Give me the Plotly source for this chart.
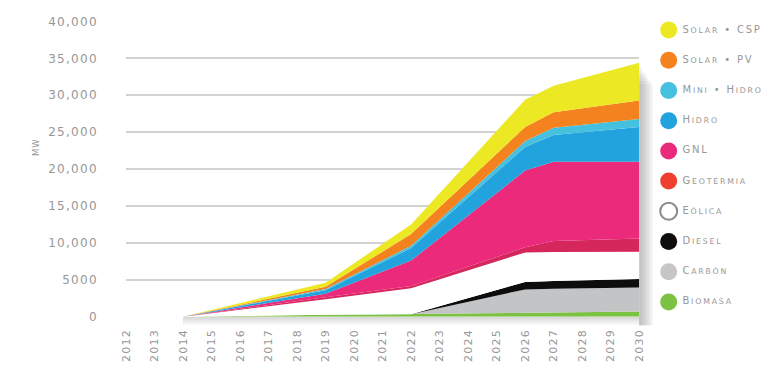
import plotly.graph_objects as go

# ---- data (MW installed, stacked bottom to top) ----
years = [2012, 2013, 2014, 2019, 2022, 2026, 2027, 2030]
year_ticks = list(range(2012, 2031))

biomasa   = [0, 0, 0, 250, 350, 500, 550, 700]
carbon    = [0, 0, 0, 0, 0, 3200, 3250, 3250]
diesel    = [0, 0, 0, 0, 0, 1000, 1050, 1150]
eolica    = [0, 0, 0, 2100, 3500, 4000, 3900, 3700]
geotermia = [0, 0, 0, 300, 300, 700, 1500, 1800]
gnl       = [0, 0, 0, 450, 3450, 10400, 10750, 10400]
hidro     = [0, 0, 0, 500, 1700, 3200, 3600, 4700]
mini      = [0, 0, 0, 150, 300, 800, 1000, 1100]
solar_pv  = [0, 0, 0, 300, 1600, 1900, 2100, 2500]
solar_csp = [0, 0, 0, 550, 1300, 3700, 3600, 5100]

names = ["Biomasa", "Carbón", "Diesel", "Eólica", "Geotermia",
         "GNL", "Hidro", "Mini • Hidro", "Solar • PV", "Solar • CSP"]
series = [biomasa, carbon, diesel, eolica, geotermia,
          gnl, hidro, mini, solar_pv, solar_csp]
fill_colors = ["#7cc242", "#c3c4c6", "#0d0d0d", "#ffffff", "#d6275d",
               "#eb2a7b", "#22a3dd", "#45c0df", "#f4831f", "#ece824"]
key_colors = ["#7cc242", "#c6c6c6", "#0d0d0d", "#ffffff", "#ee3f2f",
              "#e92b7c", "#22a3dd", "#45c0df", "#f4831f", "#ece824"]

y_ticks = [0, 5000, 10000, 15000, 20000, 25000, 30000, 35000, 40000]
y_tick_text = ["0", "5000", "10,000", "15,000", "20,000",
               "25,000", "30,000", "35,000", "40,000"]

# ---- geometry (pixels) ----
W, H = 774, 367
L, R, T, B = 122, 644, 15, 322
GREY = "#979797"
FONT = "DejaVu Sans"
X0, X1 = year_ticks[0], year_ticks[-1]
Y0, Y1 = y_ticks[0], y_ticks[-1]


def fx(px):
    return px / W


def fy(py):
    return 1 - py / H


def px_x(v):
    return L + (v - X0) / (X1 - X0) * (R - L)


def px_y(v):
    return B - (v - Y0) / (Y1 - Y0) * (B - T)


def tracked(s, spacing=1.3):
    return f"<span style='letter-spacing:{spacing}px'>{s}</span>"


fig = go.Figure()

for name, vals, col in zip(names, series, fill_colors):
    fig.add_trace(go.Scatter(
        x=years, y=vals, name=name, stackgroup="mix", mode="lines",
        line=dict(width=0, color=col), fillcolor=col,
        hoverinfo="x+y+name", showlegend=False,
    ))

# soft drop shadow to the right of and below the stack
total_end = sum(s[-1] for s in series)
shapes = []
for k in range(7):
    shapes.append(dict(type="rect", xref="paper", yref="paper",
                       x0=fx(R), x1=fx(R + 2.0 * (k + 1)),
                       y0=fy(B + 9), y1=fy(px_y(total_end) + 4 + 3 * k),
                       fillcolor="rgba(110,110,110,0.065)", line_width=0, layer="below"))
for k in range(4):
    shapes.append(dict(type="rect", xref="paper", yref="paper",
                       x0=fx(px_x(years[2])), x1=fx(R),
                       y0=fy(B + 2 * (k + 1)), y1=fy(B),
                       fillcolor="rgba(110,110,110,0.07)", line_width=0, layer="below"))


def small_caps(label, small=7.8, spacing=1.8):
    words = []
    for w in label.split(" "):
        if w == "•" or w.isupper():
            words.append(w)
        else:
            words.append(w[0].upper() +
                         f"<span style='font-size:{small}px'>{w[1:].upper()}</span>")
    return f"<span style='letter-spacing:{spacing}px'>" + " ".join(words) + "</span>"


# key drawn on its own pixel-scaled axis, top entry first
order = list(range(len(names)))[::-1]
key_y = [24 + 31.4 * i for i in range(len(order))]
fig.add_trace(go.Scatter(
    x=[674] * len(order), y=key_y, mode="markers", xaxis="x2", yaxis="y2",
    marker=dict(size=17, color=[key_colors[i] for i in order],
                line=dict(width=[2 if names[i] == "Eólica" else 0 for i in order],
                          color="#8c8c8c")),
    hoverinfo="skip", showlegend=False,
))
fig.add_trace(go.Scatter(
    x=[688] * len(order), y=key_y, mode="text", xaxis="x2", yaxis="y2",
    text=[small_caps(names[i]) for i in order], textposition="middle right",
    textfont=dict(family=FONT, size=10, color=GREY),
    hoverinfo="skip", showlegend=False,
))

fig.update_layout(
    width=W, height=H, autosize=False,
    margin=dict(l=0, r=0, t=0, b=0, pad=0),
    paper_bgcolor="white", plot_bgcolor="rgba(0,0,0,0)",
    font=dict(family=FONT, color=GREY),
    xaxis=dict(domain=[fx(L), fx(R)], range=[X0, X1],
               tickvals=year_ticks, ticktext=[tracked(str(y)) for y in year_ticks],
               tickangle=-90, tickfont=dict(size=11, color=GREY, family=FONT),
               showgrid=False, zeroline=False, showline=False, ticks="",
               ticklabelstandoff=9),
    yaxis=dict(domain=[fy(B), fy(T)], range=[Y0, Y1],
               tickvals=y_ticks, ticktext=[tracked(t) for t in y_tick_text],
               tickfont=dict(size=12, color=GREY, family=FONT),
               showgrid=True, gridcolor="#d2d2d2", gridwidth=2,
               zeroline=False, showline=False, ticks="",
               ticklabelstandoff=27),
    xaxis2=dict(domain=[fx(650), 1], range=[650, W], visible=False, fixedrange=True),
    yaxis2=dict(domain=[0, 1], range=[H, 0], visible=False, fixedrange=True,
                anchor="x2"),
    shapes=shapes,
    annotations=[dict(text=tracked("MW", 1), x=fx(24), y=fy(146),
                      xref="paper", yref="paper", textangle=-90, showarrow=False,
                      font=dict(family=FONT, size=8.5, color=GREY))],
    showlegend=False,
)

fig.write_html("out.html")
